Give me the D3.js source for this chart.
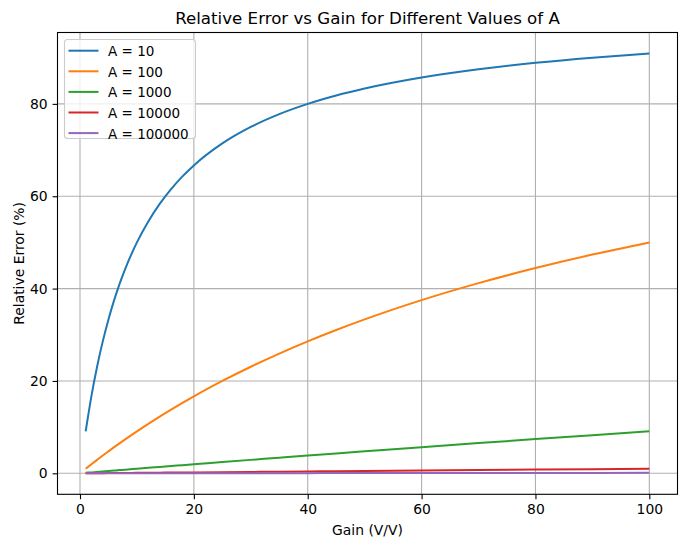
<!DOCTYPE html>
<html>
<head>
<meta charset="utf-8">
<script src="https://cdn.jsdelivr.net/npm/d3@7"></script>
<style>
  body { margin: 0; background: #fff; }
  svg { display: block; font-family: "DejaVu Sans", sans-serif; }
</style>
</head>
<body>
<div id="chart"></div>
<script>
// gain values (V/V) sampled along the curves
const gains = [1, 2, 3, 4, 5, 6, 7, 8, 10, 12, 14, 16, 18, 20, 25, 30, 35, 40, 45, 50, 60, 70, 80, 90, 100];

// relative error (%), one list per A
const errA10 = [9.09, 16.67, 23.08, 28.57, 33.33, 37.5, 41.18, 44.44, 50, 54.55, 58.33, 61.54, 64.29, 66.67, 71.43, 75, 77.78, 80, 81.82, 83.33, 85.71, 87.5, 88.89, 90, 90.91];
const errA100 = [0.99, 1.96, 2.91, 3.85, 4.76, 5.66, 6.54, 7.41, 9.09, 10.71, 12.28, 13.79, 15.25, 16.67, 20, 23.08, 25.93, 28.57, 31.03, 33.33, 37.5, 41.18, 44.44, 47.37, 50];
const errA1000 = [0.1, 0.2, 0.3, 0.4, 0.5, 0.6, 0.7, 0.79, 0.99, 1.19, 1.38, 1.57, 1.77, 1.96, 2.44, 2.91, 3.38, 3.85, 4.31, 4.76, 5.66, 6.54, 7.41, 8.26, 9.09];
const errA10000 = [0.01, 0.02, 0.03, 0.04, 0.05, 0.06, 0.07, 0.08, 0.1, 0.12, 0.14, 0.16, 0.18, 0.2, 0.25, 0.3, 0.35, 0.4, 0.45, 0.5, 0.6, 0.7, 0.8, 0.9, 0.99];
const errA100000 = [0.001, 0.002, 0.003, 0.004, 0.005, 0.006, 0.007, 0.008, 0.01, 0.012, 0.014, 0.016, 0.018, 0.02, 0.025, 0.03, 0.035, 0.04, 0.045, 0.05, 0.06, 0.07, 0.08, 0.09, 0.1];

const seriesNames = ["A = 10", "A = 100", "A = 1000", "A = 10000", "A = 100000"];
const seriesValues = [errA10, errA100, errA1000, errA10000, errA100000];
const colors = ["#1f77b4", "#ff7f0e", "#2ca02c", "#d62728", "#9467bd"];

const xTicks = [0, 20, 40, 60, 80, 100];
const yTicks = [0, 20, 40, 60, 80];

const width = 686, height = 547;
const plotL = 57.5, plotR = 677.5, plotT = 32.5, plotB = 494.3;
const fs = "13.9px";

const svg = d3.select("#chart").append("svg")
    .attr("width", width)
    .attr("height", height);

// matplotlib-style 5% margins around the data range
const xMin = d3.min(gains), xMax = d3.max(gains);
const yMin = d3.min(seriesValues.flat()), yMax = d3.max(seriesValues.flat());
const xPad = (xMax - xMin) * 0.05, yPad = (yMax - yMin) * 0.05;

const x = d3.scaleLinear().domain([xMin - xPad, xMax + xPad]).range([plotL, plotR]);
const y = d3.scaleLinear().domain([yMin - yPad, yMax + yPad]).range([plotB, plotT]);

// grid
const grid = svg.append("g")
    .attr("stroke", "#b0b0b0")
    .attr("stroke-width", 1.1);

grid.selectAll(".gx").data(xTicks).enter().append("line")
    .attr("x1", d => x(d)).attr("x2", d => x(d))
    .attr("y1", plotT).attr("y2", plotB);

grid.selectAll(".gy").data(yTicks).enter().append("line")
    .attr("x1", plotL).attr("x2", plotR)
    .attr("y1", d => y(d)).attr("y2", d => y(d));

// lines
const line = d3.line()
    .x((d, i) => x(gains[i]))
    .y(d => y(d))
    .curve(d3.curveMonotoneX);

svg.append("defs").append("clipPath").attr("id", "clip")
    .append("rect")
    .attr("x", plotL).attr("y", plotT)
    .attr("width", plotR - plotL).attr("height", plotB - plotT);

svg.append("g").attr("clip-path", "url(#clip)")
    .selectAll("path")
    .data(seriesValues)
    .enter()
    .append("path")
    .attr("d", d => line(d))
    .attr("fill", "none")
    .attr("stroke", (d, i) => colors[i])
    .attr("stroke-width", 2);

// axes
const xAxis = svg.append("g")
    .attr("transform", `translate(0,${plotB})`)
    .call(d3.axisBottom(x).tickValues(xTicks).tickSize(4.9).tickPadding(4.9));

const yAxis = svg.append("g")
    .attr("transform", `translate(${plotL},0)`)
    .call(d3.axisLeft(y).tickValues(yTicks).tickSize(4.9).tickPadding(4.9));

[xAxis, yAxis].forEach(a => {
    a.select(".domain").remove();
    a.selectAll("text")
        .attr("fill", "#000")
        .style("font-size", fs)
        .style("font-family", "DejaVu Sans, sans-serif");
    a.selectAll("line").attr("stroke", "#000").attr("stroke-width", 1.1);
});

// frame
svg.append("rect")
    .attr("x", plotL).attr("y", plotT)
    .attr("width", plotR - plotL).attr("height", plotB - plotT)
    .attr("fill", "none")
    .attr("stroke", "#000")
    .attr("stroke-width", 1.1);

// title & labels
svg.append("text")
    .attr("x", (plotL + plotR) / 2)
    .attr("y", 24)
    .attr("text-anchor", "middle")
    .style("font-size", "16.67px")
    .text("Relative Error vs Gain for Different Values of A");

svg.append("text")
    .attr("x", (plotL + plotR) / 2)
    .attr("y", 535)
    .attr("text-anchor", "middle")
    .style("font-size", fs)
    .text("Gain (V/V)");

svg.append("text")
    .attr("transform", `translate(23.5,${(plotT + plotB) / 2}) rotate(-90)`)
    .attr("text-anchor", "middle")
    .style("font-size", fs)
    .text("Relative Error (%)");

// legend
const legend = svg.append("g");

legend.append("rect")
    .attr("x", 64.5).attr("y", 39.5)
    .attr("width", 131).attr("height", 99)
    .attr("rx", 3)
    .attr("fill", "rgba(255,255,255,0.8)")
    .attr("stroke", "#cccccc")
    .attr("stroke-width", 1.1);

const items = legend.selectAll(".item")
    .data(seriesNames)
    .enter()
    .append("g")
    .attr("transform", (d, i) => `translate(0,${50.7 + i * 20.6})`);

items.append("line")
    .attr("x1", 68.5).attr("x2", 98.5)
    .attr("y1", 0).attr("y2", 0)
    .attr("stroke", (d, i) => colors[i])
    .attr("stroke-width", 2);

items.append("text")
    .attr("x", 108)
    .attr("y", 5.4)
    .style("font-size", "13.5px")
    .text(d => d);
</script>
</body>
</html>
